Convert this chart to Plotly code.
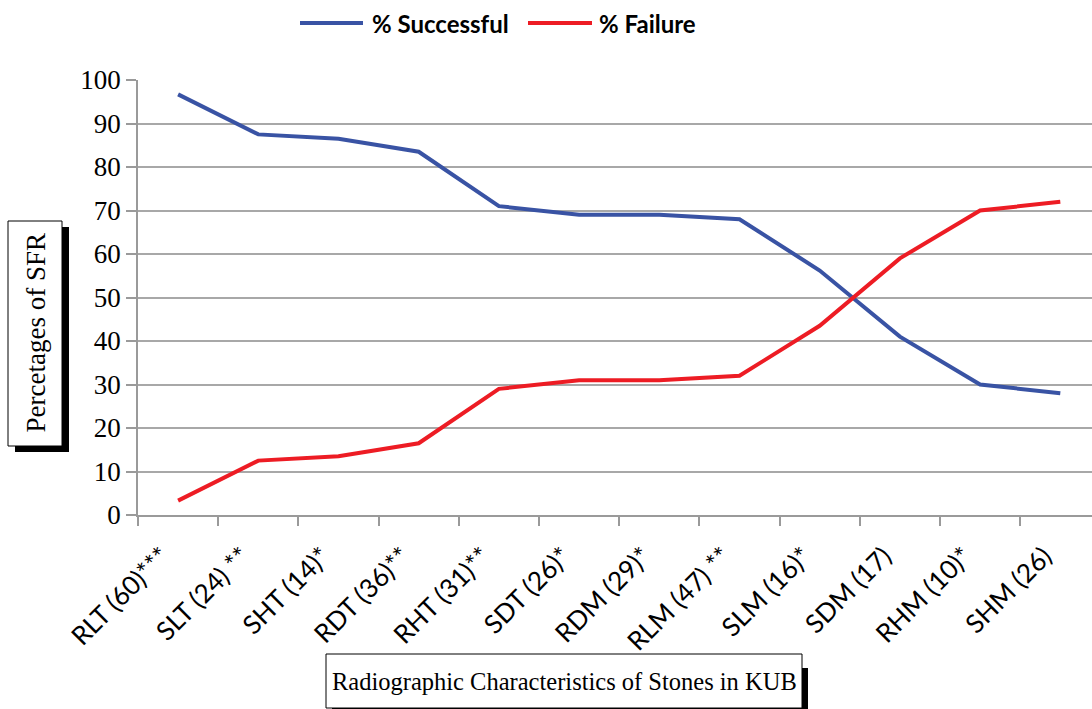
import plotly.graph_objects as go

categories = ["RLT (60)***", "SLT (24) **", "SHT (14)*", "RDT (36)**", "RHT (31)**",
              "SDT (26)*", "RDM (29)*", "RLM (47) **", "SLM (16)*", "SDM (17)",
              "RHM (10)*", "SHM (26)"]
successful = [96.7, 87.5, 86.5, 83.5, 71, 69, 69, 68, 56.2, 41, 30, 28]
failure = [3.3, 12.5, 13.5, 16.5, 29, 31, 31, 32, 43.5, 59, 70, 72]
series_names = ["% Successful", "% Failure"]
series_colors = ["#3953A4", "#ED1C24"]

W, H = 1092, 709
ML, MR, MT, MB = 138, 0, 80, 194
pw = W - ML - MR
ph = H - MT - MB
cat_px = 80.2

def px_x(x):
    return (x - ML) / pw

def px_y(y):
    return (H - MB - y) / ph

fig = go.Figure()
for vals, name, col in zip([successful, failure], series_names, series_colors):
    fig.add_trace(go.Scatter(x=categories, y=vals, mode="lines", name=name,
                             line=dict(color=col, width=4), showlegend=False))

serif = "Liberation Serif, Times New Roman, serif"
sans = "Lato, Open Sans, sans-serif"

# manual legend (line sample + bold label)
legend_items = [(300, 363, 370), (528, 592, 597)]
for (x0, x1, xt), name, col in zip(legend_items, series_names, series_colors):
    fig.add_shape(type="line", xref="paper", yref="paper",
                  x0=px_x(x0), x1=px_x(x1), y0=px_y(23), y1=px_y(23),
                  line=dict(color=col, width=4))
    fig.add_annotation(text=name, xref="paper", yref="paper", x=px_x(xt), y=px_y(24),
                       xanchor="left", yanchor="middle", showarrow=False,
                       font=dict(family=sans, size=24, color="black", weight="bold"))

def boxed_title(text, box, shadow, angle, size):
    bx0, by0, bx1, by1 = box
    dx, dy = shadow
    fig.add_shape(type="rect", xref="paper", yref="paper",
                  x0=px_x(bx0 + dx), x1=px_x(bx1 + dx), y0=px_y(by0 + dy), y1=px_y(by1 + dy),
                  fillcolor="black", line=dict(color="black", width=0))
    fig.add_shape(type="rect", xref="paper", yref="paper",
                  x0=px_x(bx0), x1=px_x(bx1), y0=px_y(by0), y1=px_y(by1),
                  fillcolor="white", line=dict(color="black", width=1))
    fig.add_annotation(text=text, xref="paper", yref="paper",
                       x=px_x((bx0 + bx1) / 2), y=px_y((by0 + by1) / 2),
                       xanchor="center", yanchor="middle", showarrow=False, textangle=angle,
                       font=dict(family=serif, size=size, color="black"))

boxed_title("Percetages of SFR", (8, 221, 62, 446), (7, 6), -90, 27)
boxed_title("Radiographic Characteristics of Stones in KUB", (326, 654, 802, 708), (6, 14), 0, 24.5)

fig.update_layout(
    width=W, height=H,
    margin=dict(l=ML, r=MR, t=MT, b=MB, pad=0, autoexpand=False),
    plot_bgcolor="white", paper_bgcolor="white",
    showlegend=False,
)
fig.update_xaxes(
    type="category", range=[-0.5, -0.5 + pw / cat_px],
    tickangle=-45, tickfont=dict(family=sans, size=26, color="black"),
    ticks="outside", ticklen=9, tickcolor="#9a9a9a", tickwidth=1.5,
    tickson="boundaries", showgrid=False, ticklabelstandoff=14, ticklabelshift=-16,
    showline=True, linecolor="#9a9a9a", linewidth=1.5,
)
fig.update_yaxes(
    range=[0, 100], tickvals=list(range(0, 101, 10)),
    tickfont=dict(family=serif, size=27, color="black"),
    ticks="outside", ticklen=10, tickcolor="#9a9a9a", tickwidth=1.5,
    showgrid=True, gridcolor="#a8a8a8", gridwidth=1.5,
    showline=True, linecolor="#9a9a9a", linewidth=1.5,
    zeroline=False,
)

fig.write_html("out.html", config={"displayModeBar": False},
               post_script="document.body.style.margin='0px';document.body.style.overflow='hidden';")
